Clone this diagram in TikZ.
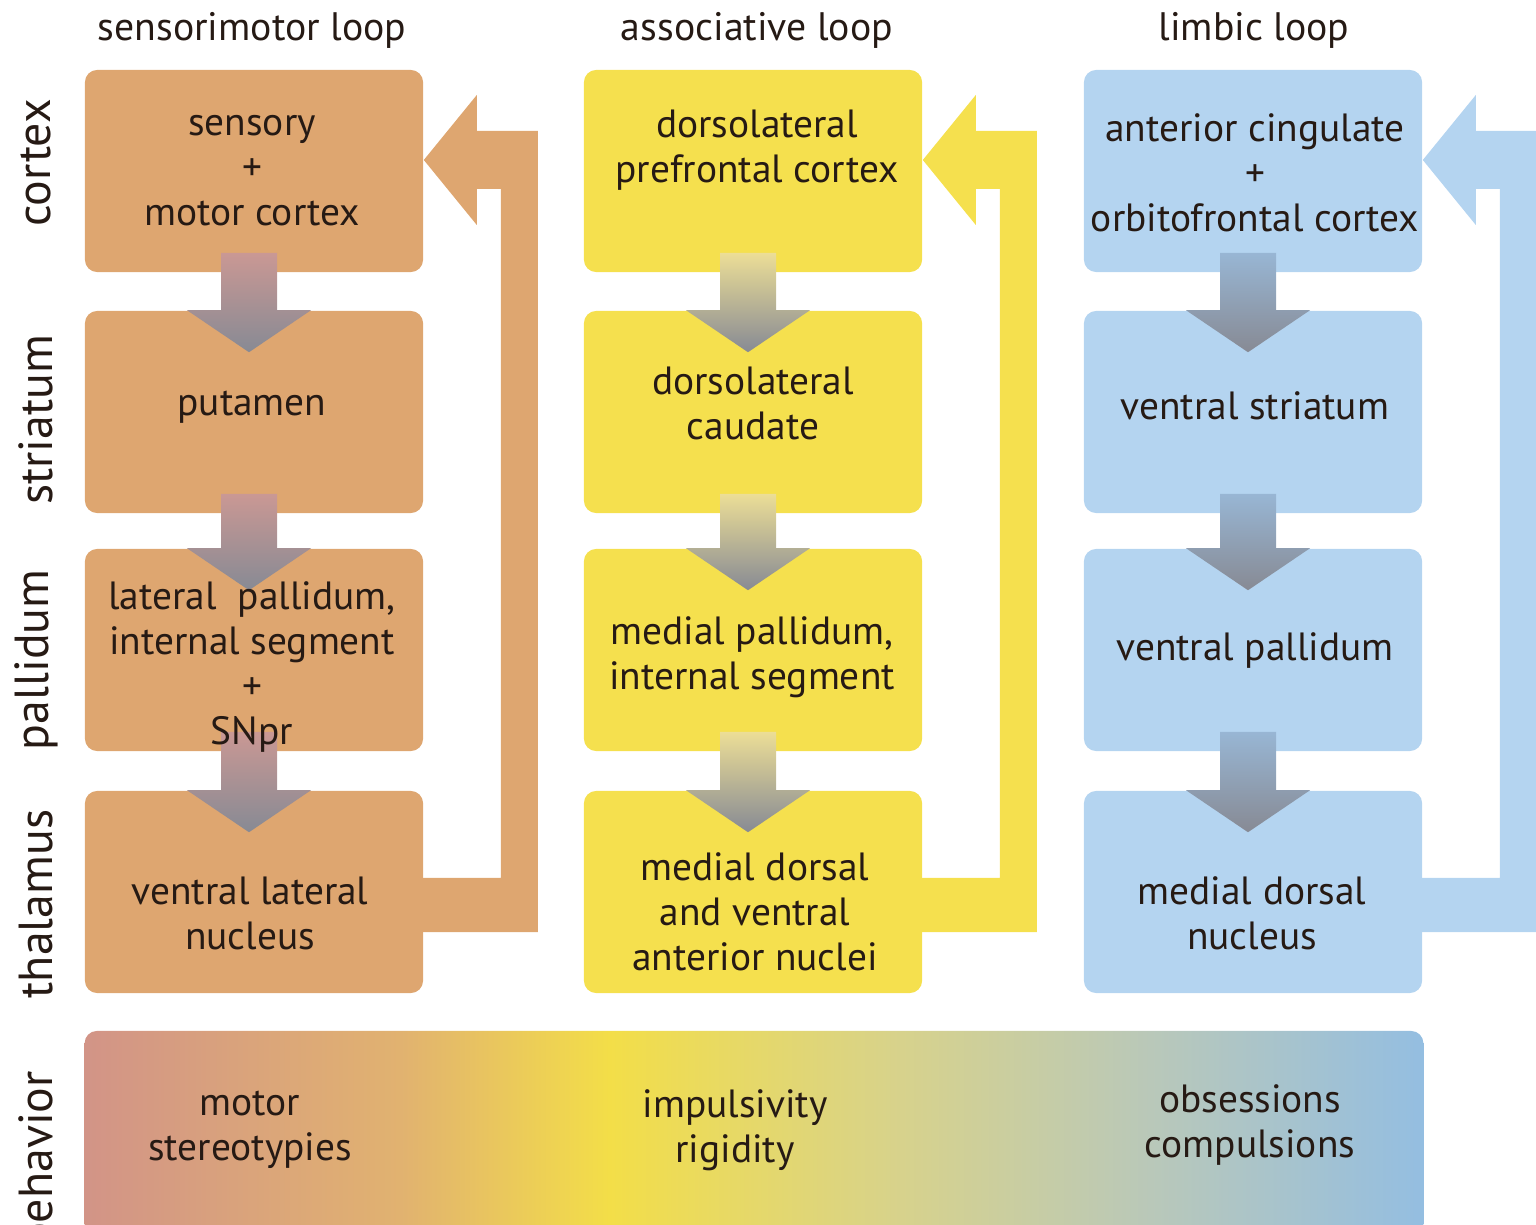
\documentclass[tikz,border=0pt]{standalone}
\usepackage{fontspec}
\setmainfont{PT Sans}
\usetikzlibrary{calc,positioning}

\definecolor{smfill}{RGB}{222,166,112}
\definecolor{asfill}{RGB}{245,224,78}
\definecolor{lbfill}{RGB}{180,212,240}
\definecolor{smtop}{RGB}{202,152,148}
\definecolor{astop}{RGB}{236,222,150}
\definecolor{lbtop}{RGB}{152,182,212}
\definecolor{downgray}{RGB}{135,138,148}
\definecolor{txt}{RGB}{38,26,20}
\definecolor{bhvA}{RGB}{210,148,135}
\definecolor{bhvB}{RGB}{225,178,112}
\definecolor{bhvC}{RGB}{243,222,72}
\definecolor{bhvD}{RGB}{215,210,140}
\definecolor{bhvE}{RGB}{185,200,185}
\definecolor{bhvF}{RGB}{148,190,225}

\pgfdeclarehorizontalshading{behaviorshade}{100bp}{color(0bp)=(bhvA); color(25bp)=(bhvA);
  color(36.8bp)=(bhvB); color(44.6bp)=(bhvC); color(55.5bp)=(bhvD); color(64.8bp)=(bhvE);
  color(75bp)=(bhvF); color(100bp)=(bhvF)}

% grey arrow from one box down into the next
\newcommand{\loopdown}[3]{%
  \shade[top color=#3, bottom color=downgray]
    ($(#1.south)+(-33,-20)$) -- ($(#1.south)+(23,-20)$) -- ($(#2.north)+(23,0)$)
    -- ($(#2.north)+(57,0)$) -- ($(#2.north)+(-5,42)$) -- ($(#2.north)+(-67,0)$)
    -- ($(#2.north)+(-33,0)$) -- cycle;}
% wide return arrow from thalamus back to cortex
\newcommand{\loopback}[3]{%
  \fill[#3] ($(#1.east)+(-10,-14)$) -- ($(#1.east)+(77,-14)$) |- ($(#2.east)+(53,18)$)
    -- ($(#2.east)+(53,54)$) -- ($(#2.east)+(0,-11)$) -- ($(#2.east)+(53,-76)$)
    -- ($(#2.east)+(53,-40)$) -- ($(#2.east)+(114,-40)$) -- ($(#1.east)+(114,40)$)
    -- ($(#1.east)+(-10,40)$) -- cycle;}

\begin{document}
\begin{tikzpicture}[
  x=0.01cm, y=-0.01cm,
  every node/.style={font=\fontsize{11.2}{12.8}\selectfont, text=txt, align=center},
  box/.style={rounded corners=3.5pt, minimum width=3.38cm, minimum height=2.02cm, inner sep=0pt},
  rowlabel/.style={rotate=90, font=\fontsize{13.6}{15}\selectfont},
  header/.style={font=\fontsize{11.3}{13}\selectfont}
]
\useasboundingbox (0,0) rectangle (1536,1225);

% column headers
\node[header] (hd-sm) at (252,30) {sensorimotor loop};
\node[header] (hd-as) at (757,30) {associative loop};
\node[header] (hd-lb) at (1254,30) {limbic loop};

% row labels
\node[rowlabel] (rw-cx) at (36,163) {cortex};
\node[rowlabel] (rw-st) at (36,420) {striatum};
\node[rowlabel] (rw-pl) at (36,660) {pallidum};
\node[rowlabel] (rw-th) at (36,904) {thalamus};
\node[rowlabel] (rw-bh) at (36,1160) {behavior};

% boxes (placed first, text comes last)
\node[box, fill=smfill] (sm-cx) at (254,171) {};
\node[box, fill=smfill] (sm-st) at (254,412) {};
\node[box, fill=smfill] (sm-pl) at (254,650) {};
\node[box, fill=smfill] (sm-th) at (254,892) {};
\node[box, fill=asfill] (as-cx) at (753,171) {};
\node[box, fill=asfill] (as-st) at (753,412) {};
\node[box, fill=asfill] (as-pl) at (753,650) {};
\node[box, fill=asfill] (as-th) at (753,892) {};
\node[box, fill=lbfill] (lb-cx) at (1253,171) {};
\node[box, fill=lbfill] (lb-st) at (1253,412) {};
\node[box, fill=lbfill] (lb-pl) at (1253,650) {};
\node[box, fill=lbfill] (lb-th) at (1253,892) {};

\loopback{sm-th}{sm-cx}{smfill}
\loopback{as-th}{as-cx}{asfill}
\loopback{lb-th}{lb-cx}{lbfill}

\loopdown{sm-cx}{sm-st}{smtop}
\loopdown{sm-st}{sm-pl}{smtop}
\loopdown{sm-pl}{sm-th}{smtop}
\loopdown{as-cx}{as-st}{astop}
\loopdown{as-st}{as-pl}{astop}
\loopdown{as-pl}{as-th}{astop}
\loopdown{lb-cx}{lb-st}{lbtop}
\loopdown{lb-st}{lb-pl}{lbtop}
\loopdown{lb-pl}{lb-th}{lbtop}

% behavior bar
\node[box, minimum width=13.38cm, minimum height=2.4cm, shading=behaviorshade] (bhv) at (754,1151) {};

% texts
\node (sm-cx-t) at (252,171) {sensory\\+\\motor cortex};
\node (sm-st-t) at (252,407) {putamen};
\node (sm-pl-t) at (252,667) {lateral\ \ pallidum,\\internal segment\\+\\SNpr};
\node (sm-th-t) at (250,913) {ventral lateral\\nucleus};
\node (as-cx-t) at (757,150) {dorsolateral\\prefrontal cortex};
\node (as-st-t) at (753,403) {dorsolateral\\caudate};
\node (as-pl-t) at (752,657) {medial pallidum,\\internal segment};
\node (as-th-t) at (755,912) {medial dorsal\\and ventral\\anterior nuclei};
\node (lb-cx-t) at (1255,173) {anterior cingulate\\+\\orbitofrontal cortex};
\node (lb-st-t) at (1255,406) {ventral striatum};
\node (lb-pl-t) at (1255,650) {ventral pallidum};
\node (lb-th-t) at (1252,913) {medial dorsal\\nucleus};
\node (bh-sm-t) at (250,1130) {motor\\stereotypies};
\node (bh-as-t) at (735,1130) {impulsivity\\rigidity};
\node (bh-lb-t) at (1250,1125) {obsessions\\compulsions};
\end{tikzpicture}
\end{document}
